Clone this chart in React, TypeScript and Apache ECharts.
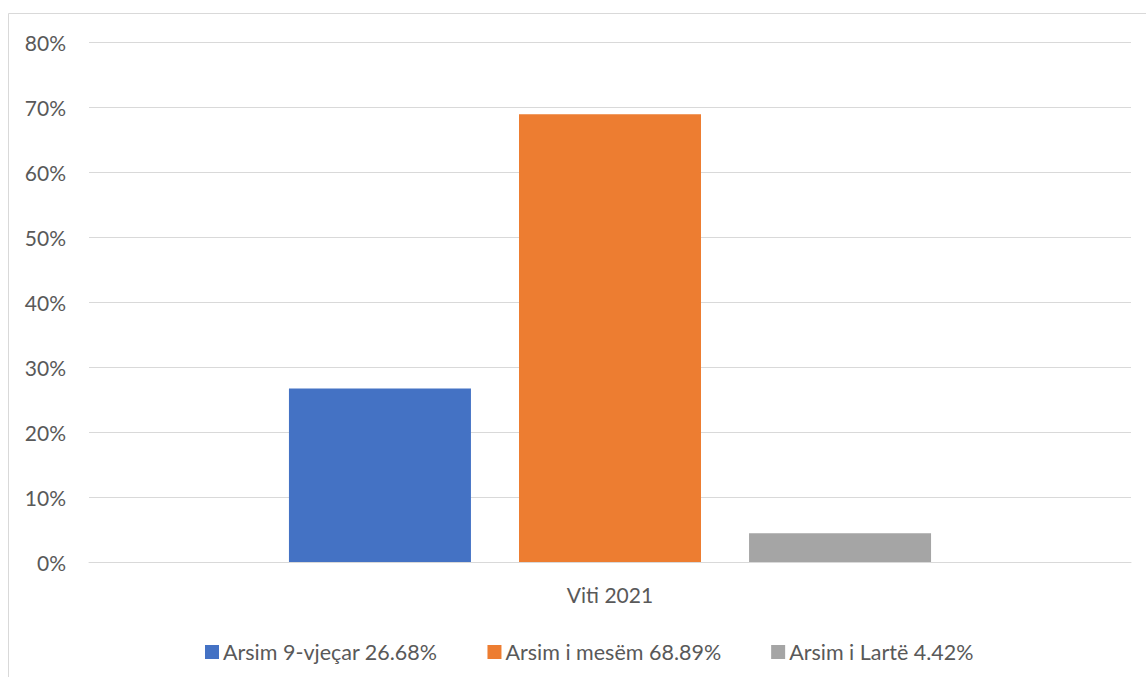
import React, { useEffect, useRef } from "react";
import * as echarts from "echarts";

const categories = ["Viti 2021"];
const seriesNames = ["Arsim 9-vjeçar 26.68%", "Arsim i mesëm 68.89%", "Arsim i Lartë 4.42%"];
const seriesValues = [26.68, 68.89, 4.42];
const seriesColors = ["#4472C4", "#ED7D31", "#A5A5A5"];

export default function App() {
  const ref = useRef<HTMLDivElement>(null);
  useEffect(() => {
    const chart = echarts.init(ref.current!, null, { renderer: "svg" });
    const font = "Lato, 'Open Sans', sans-serif";
    chart.setOption({
      animation: false,
      textStyle: { fontFamily: font },
      graphic: [
        {
          type: "rect",
          shape: { x: 8.5, y: 13.5, width: 1200, height: 700 },
          style: { fill: "none", stroke: "#d9d9d9", lineWidth: 1 },
          silent: true,
        },
      ],
      grid: { left: 89, right: 15, top: 42, bottom: 115, containLabel: false },
      legend: {
        data: seriesNames,
        top: 636,
        left: 200,
        itemWidth: 14,
        itemHeight: 14,
        itemGap: 50,
        icon: "rect",
        textStyle: { fontSize: 21.5, color: "#595959", fontFamily: font, padding: [0, 0, 0, -1] },
      },
      xAxis: {
        type: "category",
        data: categories,
        axisLine: { lineStyle: { color: "#d9d9d9", width: 1 } },
        axisTick: { show: false },
        axisLabel: { color: "#595959", fontSize: 21, margin: 22, fontFamily: font },
      },
      yAxis: {
        type: "value",
        min: 0,
        max: 80,
        interval: 10,
        axisLine: { show: false },
        axisTick: { show: false },
        splitLine: { lineStyle: { color: "#d9d9d9", width: 1 } },
        axisLabel: { formatter: "{value}%", color: "#595959", fontSize: 21, margin: 23, fontFamily: font },
      },
      series: seriesNames.map((name, i) => ({
        name,
        type: "bar",
        data: [seriesValues[i]],
        barWidth: 182,
        barGap: "26.4%",
        itemStyle: { color: seriesColors[i] },
      })),
    });
    return () => chart.dispose();
  }, []);
  return <div ref={ref} style={{ position: "absolute", left: 0, top: 0, width: 1146, height: 677 }} />;
}
